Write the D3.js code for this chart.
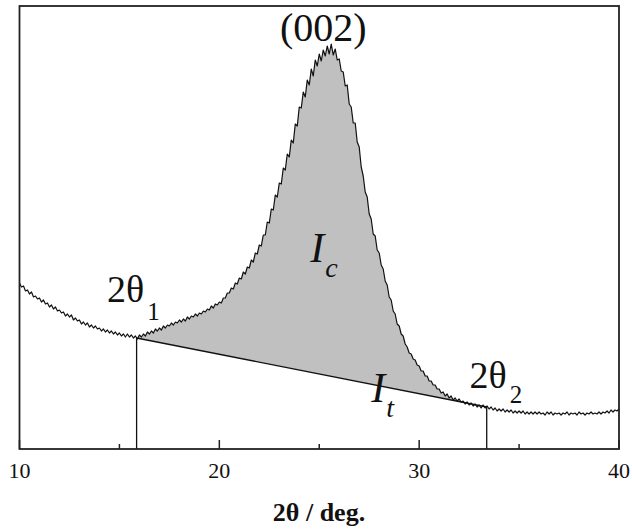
<!DOCTYPE html>
<html>
<head>
<meta charset="utf-8">
<script src="https://cdn.jsdelivr.net/npm/d3@7/dist/d3.min.js"></script>
<style>
  body { margin: 0; background: #fff; }
  svg text { font-family: "Liberation Serif", Tinos, "Times New Roman", Times, serif; fill: #111; }
</style>
</head>
<body>
<div id="chart"></div>
<script>
// scan angles (deg), 0.1 deg step, and intensity (a.u.)
var twoTheta = [
  10.0, 10.1, 10.2, 10.3, 10.4, 10.5, 10.6, 10.7, 10.8, 10.9,
  11.0, 11.1, 11.2, 11.3, 11.4, 11.5, 11.6, 11.7, 11.8, 11.9,
  12.0, 12.1, 12.2, 12.3, 12.4, 12.5, 12.6, 12.7, 12.8, 12.9,
  13.0, 13.1, 13.2, 13.3, 13.4, 13.5, 13.6, 13.7, 13.8, 13.9,
  14.0, 14.1, 14.2, 14.3, 14.4, 14.5, 14.6, 14.7, 14.8, 14.9,
  15.0, 15.1, 15.2, 15.3, 15.4, 15.5, 15.6, 15.7, 15.8, 15.9,
  16.0, 16.1, 16.2, 16.3, 16.4, 16.5, 16.6, 16.7, 16.8, 16.9,
  17.0, 17.1, 17.2, 17.3, 17.4, 17.5, 17.6, 17.7, 17.8, 17.9,
  18.0, 18.1, 18.2, 18.3, 18.4, 18.5, 18.6, 18.7, 18.8, 18.9,
  19.0, 19.1, 19.2, 19.3, 19.4, 19.5, 19.6, 19.7, 19.8, 19.9,
  20.0, 20.1, 20.2, 20.3, 20.4, 20.5, 20.6, 20.7, 20.8, 20.9,
  21.0, 21.1, 21.2, 21.3, 21.4, 21.5, 21.6, 21.7, 21.8, 21.9,
  22.0, 22.1, 22.2, 22.3, 22.4, 22.5, 22.6, 22.7, 22.8, 22.9,
  23.0, 23.1, 23.2, 23.3, 23.4, 23.5, 23.6, 23.7, 23.8, 23.9,
  24.0, 24.1, 24.2, 24.3, 24.4, 24.5, 24.6, 24.7, 24.8, 24.9,
  25.0, 25.1, 25.2, 25.3, 25.4, 25.5, 25.6, 25.7, 25.8, 25.9,
  26.0, 26.1, 26.2, 26.3, 26.4, 26.5, 26.6, 26.7, 26.8, 26.9,
  27.0, 27.1, 27.2, 27.3, 27.4, 27.5, 27.6, 27.7, 27.8, 27.9,
  28.0, 28.1, 28.2, 28.3, 28.4, 28.5, 28.6, 28.7, 28.8, 28.9,
  29.0, 29.1, 29.2, 29.3, 29.4, 29.5, 29.6, 29.7, 29.8, 29.9,
  30.0, 30.1, 30.2, 30.3, 30.4, 30.5, 30.6, 30.7, 30.8, 30.9,
  31.0, 31.1, 31.2, 31.3, 31.4, 31.5, 31.6, 31.7, 31.8, 31.9,
  32.0, 32.1, 32.2, 32.3, 32.4, 32.5, 32.6, 32.7, 32.8, 32.9,
  33.0, 33.1, 33.2, 33.3, 33.4, 33.5, 33.6, 33.7, 33.8, 33.9,
  34.0, 34.1, 34.2, 34.3, 34.4, 34.5, 34.6, 34.7, 34.8, 34.9,
  35.0, 35.1, 35.2, 35.3, 35.4, 35.5, 35.6, 35.7, 35.8, 35.9,
  36.0, 36.1, 36.2, 36.3, 36.4, 36.5, 36.6, 36.7, 36.8, 36.9,
  37.0, 37.1, 37.2, 37.3, 37.4, 37.5, 37.6, 37.7, 37.8, 37.9,
  38.0, 38.1, 38.2, 38.3, 38.4, 38.5, 38.6, 38.7, 38.8, 38.9,
  39.0, 39.1, 39.2, 39.3, 39.4, 39.5, 39.6, 39.7, 39.8, 39.9,
  40.0
];
var intensity = [
  166, 162, 163, 158, 159, 155, 157, 152, 153, 150,
  151, 147, 149, 145, 146, 142, 144, 140, 142, 138,
  139, 136, 137, 133, 135, 132, 134, 129, 131, 128,
  129, 125, 127, 124, 126, 122, 124, 121, 123, 120,
  121, 118, 120, 117, 119, 116, 118, 115, 117, 114,
  116, 113, 115, 112, 115, 112, 114, 111, 113, 110,
  114, 112, 115, 113, 117, 115, 118, 116, 120, 118,
  121, 119, 123, 121, 124, 123, 126, 124, 127, 126,
  129, 127, 130, 128, 132, 130, 133, 132, 135, 133,
  136, 135, 138, 137, 140, 139, 143, 141, 145, 144,
  147, 146, 151, 151, 156, 156, 161, 160, 166, 165,
  171, 170, 177, 175, 182, 181, 189, 187, 196, 195,
  204, 203, 214, 214, 227, 226, 240, 239, 254, 252,
  266, 265, 281, 279, 295, 292, 309, 306, 325, 323,
  342, 341, 357, 352, 369, 364, 380, 373, 389, 383,
  395, 388, 399, 393, 403, 395, 405, 394, 400, 389,
  390, 378, 377, 363, 364, 345, 342, 326, 326, 307,
  302, 282, 273, 257, 252, 235, 230, 215, 213, 199,
  196, 184, 180, 168, 164, 152, 149, 138, 135, 125,
  123, 115, 113, 105, 102, 96, 95, 90, 89, 84,
  83, 78, 78, 73, 73, 68, 68, 64, 64, 60,
  60, 56, 57, 53, 55, 51, 53, 49, 51, 48,
  50, 47, 48, 45, 47, 44, 46, 43, 45, 42,
  44, 41, 44, 41, 43, 40, 42, 39, 41, 38,
  40, 38, 40, 37, 39, 37, 39, 36, 38, 36,
  38, 36, 38, 35, 37, 35, 37, 35, 37, 35,
  37, 35, 36, 34, 37, 35, 37, 34, 36, 35,
  36, 34, 36, 35, 37, 34, 36, 35, 36, 34,
  37, 35, 36, 34, 36, 35, 37, 35, 36, 35,
  37, 35, 37, 36, 38, 36, 39, 37, 39, 38,
  40
];

var xTicks = [10, 20, 30, 40];
var xMinorTicks = [15, 25, 35];

// integration limits and the straight background between them
var theta1 = 15.86, theta2 = 33.38;
var base1 = 111, base2 = 42;

var margin = {top: 6, right: 13, bottom: 82, left: 19.5},
    width = 632 - margin.left - margin.right,
    height = 531 - margin.top - margin.bottom;

var svg = d3.select("#chart")
  .append("svg")
    .attr("width", 632)
    .attr("height", 531)
  .append("g")
    .attr("transform", "translate(" + margin.left + "," + margin.top + ")");

var x = d3.scaleLinear().domain([10, 40]).range([0, width]);
var y = d3.scaleLinear().domain([0, 443]).range([height, 0]);

var data = d3.zip(twoTheta, intensity);

function background(t) {
  return base1 + (base2 - base1) * (t - theta1) / (theta2 - theta1);
}

// shaded crystalline area between curve and background
var areaPts = [[theta1, base1, base1]];
data.forEach(function (d) {
  if (d[0] > theta1 && d[0] < theta2) {
    var b = background(d[0]);
    areaPts.push([d[0], b, Math.max(b, d[1])]);
  }
});
areaPts.push([theta2, base2, base2]);

svg.append("path")
  .datum(areaPts)
  .attr("fill", "#c0c0c0")
  .attr("d", d3.area()
    .x(function (d) { return x(d[0]); })
    .y0(function (d) { return y(d[1]); })
    .y1(function (d) { return y(d[2]); }));

// pattern
svg.append("path")
  .datum(data)
  .attr("fill", "none")
  .attr("stroke", "#111")
  .attr("stroke-width", 1.2)
  .attr("stroke-linejoin", "round")
  .attr("d", d3.line()
    .x(function (d) { return x(d[0]); })
    .y(function (d) { return y(d[1]); }));

// background line
svg.append("line")
  .attr("x1", x(theta1)).attr("y1", y(base1))
  .attr("x2", x(theta2)).attr("y2", y(base2))
  .attr("stroke", "#111").attr("stroke-width", 1.3);

// limit markers
[[theta1, base1], [theta2, base2]].forEach(function (p) {
  svg.append("line")
    .attr("x1", x(p[0])).attr("y1", y(p[1]))
    .attr("x2", x(p[0])).attr("y2", height)
    .attr("stroke", "#111").attr("stroke-width", 1.3);
});

// frame
svg.append("rect")
  .attr("x", 0).attr("y", 0)
  .attr("width", width).attr("height", height)
  .attr("fill", "none")
  .attr("stroke", "#222")
  .attr("stroke-width", 1.8);

// ticks, pointing inward
svg.selectAll(".major")
  .data(xTicks)
  .enter().append("line")
    .attr("x1", function (d) { return x(d); })
    .attr("x2", function (d) { return x(d); })
    .attr("y1", height).attr("y2", height - 9)
    .attr("stroke", "#222").attr("stroke-width", 1.5);

svg.selectAll(".minor")
  .data(xMinorTicks)
  .enter().append("line")
    .attr("x1", function (d) { return x(d); })
    .attr("x2", function (d) { return x(d); })
    .attr("y1", height).attr("y2", height - 5)
    .attr("stroke", "#222").attr("stroke-width", 1.5);

svg.selectAll(".tickLabel")
  .data(xTicks)
  .enter().append("text")
    .attr("x", function (d) { return x(d); })
    .attr("y", height + 29)
    .attr("text-anchor", "middle")
    .style("font-size", "22px")
    .text(function (d) { return d; });

// x title
svg.append("text")
  .attr("x", 319 - margin.left)
  .attr("y", height + 72)
  .attr("text-anchor", "middle")
  .style("font-size", "26px")
  .style("font-weight", "bold")
  .text("2θ / deg.");

// annotations
svg.append("text")
  .attr("x", x(25.2))
  .attr("y", y(408))
  .attr("text-anchor", "middle")
  .style("font-size", "40px")
  .text("(002)");

function subLabel(t, i, main, sub, dy, italic) {
  var txt = svg.append("text")
    .attr("x", x(t))
    .attr("y", y(i))
    .style("font-size", italic ? "42px" : "38px");
  var m = txt.append("tspan").text(main);
  if (italic) m.style("font-style", "italic");
  var s = txt.append("tspan")
    .attr("dy", dy)
    .attr("dx", italic ? 1 : 3)
    .style("font-size", italic ? "28px" : "25px")
    .text(sub);
  if (italic) s.style("font-style", "italic");
}

subLabel(14.38, 147, "2θ", "1", 18, false);
subLabel(32.52, 61, "2θ", "2", 15, false);
subLabel(24.55, 187, "I", "c", 15, true);
subLabel(27.6, 47, "I", "t", 15, true);
</script>
</body>
</html>
